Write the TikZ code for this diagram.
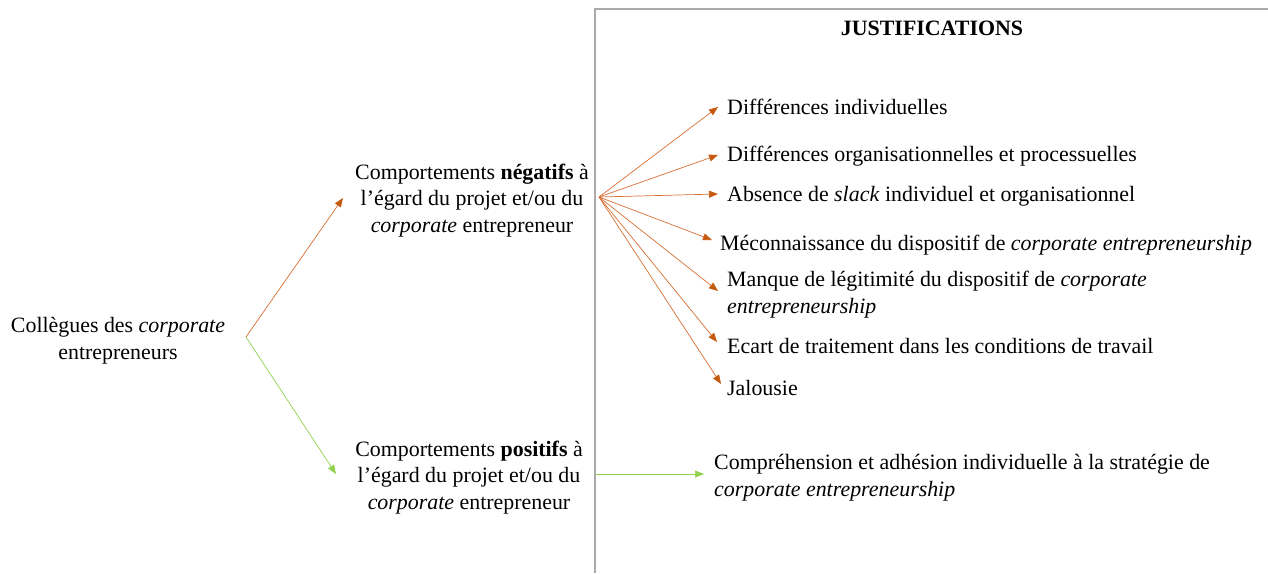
\documentclass[tikz,border=0pt]{standalone}
\usepackage{fontspec}
\setmainfont{Liberation Serif}
\usetikzlibrary{arrows.meta}
\definecolor{orgline}{RGB}{214,110,50}
\definecolor{orgtip}{RGB}{197,90,17}
\definecolor{grnline}{RGB}{146,208,80}
\definecolor{boxgray}{RGB}{170,170,170}
\tikzset{
  txt/.style={inner sep=0pt, font=\fontsize{21.9}{26.5}\selectfont},
  lbl/.style={txt, anchor=base west},
  ctr/.style={txt, anchor=base, align=center},
  negarrow/.style={draw=orgline, line width=0.7pt, -{Triangle[length=9pt,width=7pt,color=orgtip]}},
  posarrow/.style={draw=grnline, line width=0.7pt, -{Triangle[length=9pt,width=7pt]}},
}
\begin{document}
\begin{tikzpicture}[x=1pt,y=-1pt]
\useasboundingbox (0,0) rectangle (1268,573);
% box
\draw[boxgray, line width=1.8pt] (595,573) -- (595,9) -- (1268,9);
\node[txt, anchor=base, font=\fontsize{21.9}{26.5}\selectfont\bfseries] (title) at (932,35) {JUSTIFICATIONS};

% left (base anchor = baseline of last line)
\node[ctr] (coll) at (118,359) {Collègues des \textit{corporate}\\entrepreneurs};
\node[ctr] (neg) at (472,232) {Comportements \textbf{négatifs} à\\l’égard du projet et/ou du\\\textit{corporate} entrepreneur};
\node[ctr] (pos) at (469,509) {Comportements \textbf{positifs} à\\l’égard du projet et/ou du\\\textit{corporate} entrepreneur};

\coordinate (src) at (246,337);
\coordinate (negtip) at (343,198);
\coordinate (postip) at (336,474);
\draw[negarrow] (src) -- (negtip);
\draw[posarrow] (src) -- (postip);

% justifications
\node[lbl] (j1) at (727,114) {Différences individuelles};
\node[lbl] (j2) at (727,161) {Différences organisationnelles et processuelles};
\node[lbl] (j3) at (727,201) {Absence de \textit{slack} individuel et organisationnel};
\node[lbl] (j4) at (720,250) {Méconnaissance du dispositif de \textit{corporate entrepreneurship}};
\node[lbl, align=left] (j5) at (727,313) {Manque de légitimité du dispositif de \textit{corporate}\\\textit{entrepreneurship}};
\node[lbl] (j6) at (727,353) {Ecart de traitement dans les conditions de travail};
\node[lbl] (j7) at (727,395) {Jalousie};
\node[lbl, align=left] (p1) at (714,496) {Compréhension et adhésion individuelle à la stratégie de\\\textit{corporate entrepreneurship}};

\coordinate (fan) at (599,197);
\coordinate (t1) at (718,107);
\coordinate (t2) at (718,155);
\coordinate (t3) at (718,194);
\coordinate (t4) at (712,240);
\coordinate (t5) at (718,291);
\coordinate (t6) at (717,342);
\coordinate (t7) at (721,384);
\foreach \t in {t1,t2,t3,t4,t5,t6,t7} \draw[negarrow] (fan) -- (\t);

\coordinate (pstart) at (596,474);
\coordinate (ptip) at (704,474);
\draw[posarrow] (pstart) -- (ptip);
\end{tikzpicture}
\end{document}
